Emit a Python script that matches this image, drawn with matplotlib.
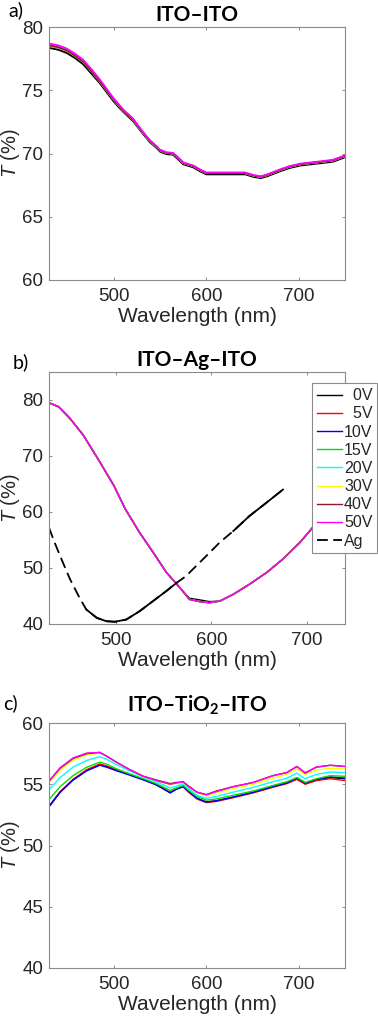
import matplotlib
matplotlib.use("Agg")
import matplotlib.pyplot as plt

plt.rcParams["font.family"] = ["Liberation Sans", "DejaVu Sans"]
plt.rcParams["mathtext.fontset"] = "custom"
plt.rcParams["mathtext.rm"] = "Liberation Sans"
plt.rcParams["mathtext.it"] = "Liberation Sans:italic"
plt.rcParams["mathtext.bf"] = "Lato:bold"

# ---- data ----
voltages = ["  0V", "  5V", "10V", "15V", "20V", "30V", "40V", "50V"]
colors = ["#000000", "#ff0000", "#0000ff", "#00dd00", "#00ffff", "#ffff00", "#8b1a2b", "#ff00ff"]

# a) ITO-ITO
wl_a = [430, 440, 449, 458, 467, 476, 485, 500, 510, 521, 530, 539, 546, 550, 557, 564,
        568, 575, 586, 593, 600, 611, 620, 629, 642, 651, 659, 666, 680, 690, 702, 720, 737, 750]
a_0v = [78.35, 78.2, 77.95, 77.55, 77.05, 76.3, 75.55, 74.1, 73.3, 72.55, 71.7, 70.9, 70.45,
        70.15, 69.95, 69.9, 69.65, 69.15, 68.9, 68.6, 68.35, 68.35, 68.35, 68.35, 68.35, 68.15,
        68.05, 68.2, 68.6, 68.85, 69.05, 69.2, 69.35, 69.7]
a_mid = [78.55, 78.4, 78.15, 77.75, 77.25, 76.5, 75.7, 74.25, 73.4, 72.65, 71.8, 71.0, 70.55,
         70.25, 70.05, 70.0, 69.75, 69.25, 69.0, 68.7, 68.45, 68.45, 68.45, 68.45, 68.45, 68.25,
         68.15, 68.3, 68.7, 68.95, 69.15, 69.3, 69.45, 69.8]
a_50v = [78.7, 78.55, 78.3, 77.9, 77.4, 76.65, 75.85, 74.35, 73.5, 72.75, 71.85, 71.05, 70.6,
         70.3, 70.1, 70.05, 69.8, 69.3, 69.05, 68.75, 68.5, 68.5, 68.5, 68.5, 68.5, 68.3,
         68.2, 68.35, 68.75, 69.0, 69.2, 69.35, 69.5, 69.85]
series_a = [a_0v, a_mid, a_mid, a_mid, a_mid, a_mid, a_mid, a_50v]

# b) ITO-Ag-ITO
wl_b = [430, 440, 452, 466, 483, 498, 510, 525, 539, 553, 567, 577, 588, 598, 609, 623,
        640, 658, 675, 693, 705, 720, 740]
b_0v = [79.5, 78.8, 76.7, 73.7, 69.0, 64.7, 60.5, 56.3, 52.8, 49.2, 46.5, 44.6, 44.3, 44.0,
        44.1, 45.3, 47.1, 49.2, 51.6, 54.6, 57.0, 61.0, 65.0]
b_on = [79.5, 78.8, 76.7, 73.7, 69.0, 64.7, 60.5, 56.3, 52.8, 49.2, 46.5, 44.4, 44.0, 43.8,
        44.1, 45.3, 47.1, 49.2, 51.6, 54.6, 57.0, 61.0, 65.0]
series_b = [b_0v, b_on, b_on, b_on, b_on, b_on, b_on, b_on]
wl_ag = [430, 436, 443, 452, 461, 469, 480, 490, 499, 511, 525, 539, 553, 564, 574, 579,
         595, 609, 623, 640, 658, 675]
T_ag = [57.2, 54.5, 51.6, 48.0, 45.0, 42.6, 41.1, 40.5, 40.4, 40.8, 42.3, 44.1, 45.9, 47.4,
        48.6, 49.5, 52.2, 54.6, 56.6, 59.3, 61.7, 64.0]
ag_solid_ranges = [(469, 564), (623, 675)]

# c) ITO-TiO2-ITO
wl_c = [430, 442, 456, 471, 485, 492, 503, 517, 532, 546, 561, 568, 575, 581, 590, 600,
        611, 629, 651, 672, 687, 698, 707, 719, 734, 750]
c_0v = [53.15, 54.35, 55.35, 56.15, 56.6, 56.45, 56.15, 55.8, 55.4, 55.0, 54.3, 54.65, 54.85,
        54.4, 53.85, 53.55, 53.65, 53.95, 54.35, 54.8, 55.1, 55.45, 55.05, 55.35, 55.55, 55.45]
c_5v = [53.2, 54.4, 55.4, 56.2, 56.65, 56.5, 56.2, 55.8, 55.4, 54.95, 54.35, 54.6, 54.8,
        54.35, 53.8, 53.5, 53.6, 53.9, 54.3, 54.75, 55.05, 55.4, 55.0, 55.3, 55.45, 55.3]
c_10v = [53.2, 54.35, 55.35, 56.1, 56.55, 56.4, 56.1, 55.75, 55.35, 54.95, 54.3, 54.6, 54.8,
         54.4, 53.85, 53.55, 53.65, 53.95, 54.35, 54.8, 55.1, 55.5, 55.1, 55.4, 55.6, 55.5]
c_15v = [53.75, 54.8, 55.7, 56.4, 56.8, 56.65, 56.25, 55.85, 55.45, 55.05, 54.5, 54.7, 54.9,
         54.5, 54.0, 53.7, 53.8, 54.1, 54.45, 54.9, 55.2, 55.55, 55.15, 55.45, 55.7, 55.65]
c_20v = [54.55, 55.55, 56.4, 56.95, 57.25, 57.05, 56.6, 56.1, 55.6, 55.2, 54.7, 54.85, 55.05,
         54.65, 54.1, 53.85, 54.0, 54.35, 54.75, 55.2, 55.5, 55.9, 55.45, 55.8, 56.0, 55.95]
c_30v = [55.1, 56.15, 56.95, 57.4, 57.55, 57.3, 56.8, 56.2, 55.65, 55.3, 54.95, 55.1, 55.15,
         54.8, 54.3, 54.05, 54.3, 54.65, 55.0, 55.5, 55.8, 56.25, 55.8, 56.15, 56.3, 56.25]
c_40v = [55.25, 56.3, 57.1, 57.5, 57.6, 57.3, 56.8, 56.2, 55.65, 55.35, 55.05, 55.15, 55.2,
         54.85, 54.35, 54.15, 54.45, 54.8, 55.15, 55.7, 55.95, 56.45, 55.9, 56.4, 56.55, 56.45]
c_50v = [55.25, 56.35, 57.15, 57.55, 57.6, 57.3, 56.8, 56.2, 55.65, 55.3, 55.0, 55.1, 55.2,
         54.8, 54.35, 54.15, 54.4, 54.8, 55.15, 55.7, 55.95, 56.45, 55.95, 56.4, 56.55, 56.45]
series_c = [c_0v, c_5v, c_10v, c_15v, c_20v, c_30v, c_40v, c_50v]

SPINE = "#8a8a8a"
TXT = "#262626"


def style_axes(ax, xlim, ylim, yticks, title, title_pad):
    ax.set_xlim(*xlim)
    ax.set_ylim(*ylim)
    ax.set_xticks([500, 600, 700])
    ax.set_yticks(yticks)
    ax.tick_params(direction="in", top=True, right=True, length=2.5, width=0.7,
                   color=SPINE, labelcolor=TXT, labelsize=13.5)
    ax.tick_params(axis="x", pad=6)
    ax.tick_params(axis="y", pad=4)
    for s in ax.spines.values():
        s.set_color(SPINE)
        s.set_linewidth(0.8)
    ax.set_xlabel("Wavelength (nm)", fontsize=15, color=TXT, labelpad=1)
    ax.set_ylabel(r"$T$ (%)", fontsize=14.5, color=TXT)
    # ylabel anchor is its right edge (rotated text), ~22 px from the figure edge
    ax.yaxis.set_label_coords(-0.09, 0.5)
    ax.set_title(title, fontsize=15, fontweight="bold", family="Lato", pad=title_pad)


fig = plt.figure(figsize=(3.78, 10.24), dpi=100)
W, H = 378, 1024
ax_a = fig.add_axes([49 / W, 1 - 280 / H, 296 / W, 253 / H])
ax_b = fig.add_axes([49 / W, 1 - 624 / H, 296 / W, 252 / H])
ax_c = fig.add_axes([49 / W, 1 - 968 / H, 296 / W, 245 / H])

# a)
for T, c in zip(series_a, colors):
    ax_a.plot(wl_a, T, color=c, lw=1.3)
style_axes(ax_a, (430, 750), (60, 80), [60, 65, 70, 75, 80], "ITO–ITO", 4)

# b)
handles = []
for T, c, lab in zip(series_b, colors, voltages):
    h, = ax_b.plot(wl_b, T, color=c, lw=1.0, label=lab)
    handles.append(h)
h_ag, = ax_b.plot(wl_ag, T_ag, color="black", lw=1.3, ls=(0, (6, 3)), label="Ag")
for lo, hi in ag_solid_ranges:
    xs = [x for x in wl_ag if lo <= x <= hi]
    ys = [y for x, y in zip(wl_ag, T_ag) if lo <= x <= hi]
    ax_b.plot(xs, ys, color="black", lw=1.3)
handles.append(h_ag)
style_axes(ax_b, (430, 740), (40, 85), [40, 50, 60, 70, 80], "ITO–Ag–ITO", 4)
leg = ax_b.legend(handles=handles, loc="upper left", bbox_to_anchor=(0.889, 0.955),
                  borderaxespad=0, fontsize=11.5, frameon=True, fancybox=False,
                  edgecolor=SPINE, framealpha=1, handlelength=1.55, handletextpad=0.15,
                  labelspacing=0.2, borderpad=0.3)
leg.get_frame().set_linewidth(0.8)
for t in leg.get_texts():
    t.set_color(TXT)

# c)
for T, c in zip(series_c, colors):
    ax_c.plot(wl_c, T, color=c, lw=1.0)
style_axes(ax_c, (430, 750), (40, 60), [40, 45, 50, 55, 60],
           r"ITO–TiO$_\mathbf{2}$–ITO", 8)

# panel letters
for lab, x, y in [("a)", 8, 16), ("b)", 13, 368), ("c)", 3, 709)]:
    fig.text(x / W, 1 - y / H, lab, family="Lato", fontsize=14, color="black",
             ha="left", va="baseline")

fig.savefig("out.png", dpi=100)
